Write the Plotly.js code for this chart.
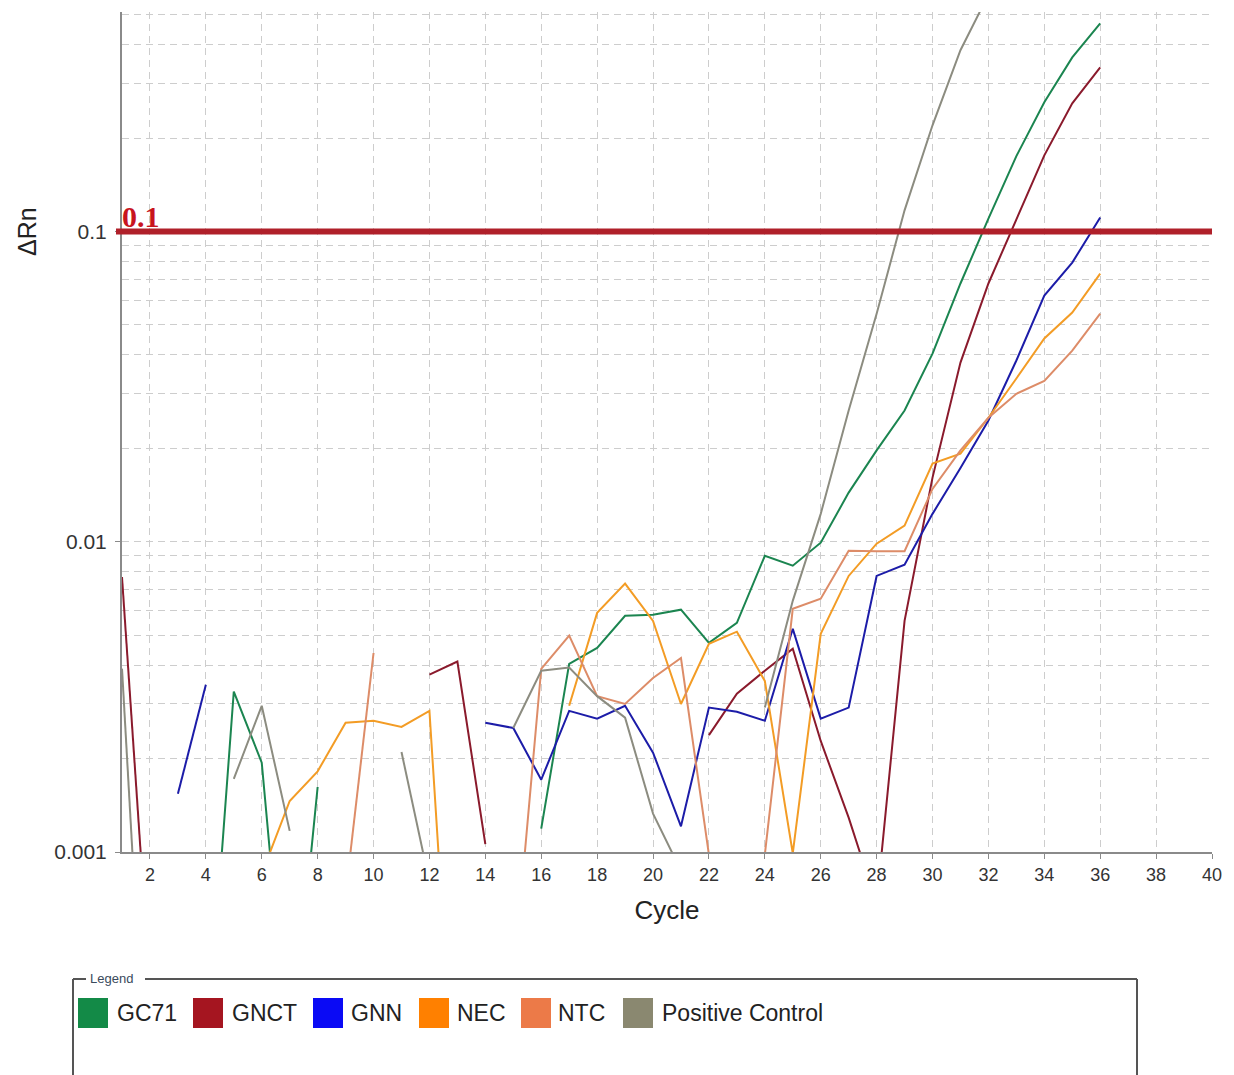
<!DOCTYPE html>
<html><head><meta charset="utf-8">
<script src="https://cdn.plot.ly/plotly-3.0.1.min.js"></script>
<style>html,body{margin:0;padding:0;background:#fff}#chart{width:1234px;height:1075px}</style>
</head><body><div id="chart"></div>
<script>
// ---- data (cycles 1..36; null = no positive value, line gap) ----
const cycles = [1,2,3,4,5,6,7,8,9,10,11,12,13,14,15,16,17,18,19,20,21,22,23,24,25,26,27,28,29,30,31,32,33,34,35,36];
const seriesNames = ["GC71","GNCT","GNN","NEC","NTC","Positive Control"];
const gc71 = [null,null,null,0.0002,0.00329,0.00194,0.0002,0.00162,null,null,null,null,null,null,null,0.00119,0.00404,0.00455,0.00577,0.00582,0.00604,0.00472,0.00548,0.00901,0.00837,0.00993,0.0144,0.0197,0.0265,0.0404,0.068,0.110,0.175,0.261,0.364,0.469];
const gnct = [0.0077,0.00036,null,null,null,null,null,null,null,null,null,0.00373,0.00411,0.00106,null,null,null,null,null,null,null,0.00238,0.00324,0.00384,0.00452,0.00228,0.00129,0.00068,0.00556,0.0161,0.0378,0.068,0.110,0.176,0.259,0.338];
const gnn = [null,null,0.00154,0.00346,null,null,null,null,null,null,null,null,null,0.00261,0.00251,0.00171,0.00285,0.00269,0.00296,0.00209,0.00121,0.00292,0.00283,0.00265,0.00524,0.00269,0.00292,0.00776,0.00843,0.0123,0.0173,0.0246,0.0384,0.0622,0.0794,0.111];
const nec = [null,null,null,null,null,0.00085,0.00146,0.00182,0.00261,0.00265,0.00253,0.00285,0.00011,null,null,null,0.00296,0.0059,0.00733,0.00556,0.0030,0.00469,0.00513,0.00356,0.00099,0.00505,0.00776,0.00986,0.01127,0.01786,0.01923,0.0251,0.0336,0.0452,0.0548,0.0732];
const ntc = [null,null,null,null,null,null,null,null,0.00073,0.00438,null,null,null,null,0.00038,0.00389,0.00498,0.00318,0.0030,0.00364,0.00422,0.00098,null,0.00098,0.00608,0.00655,0.00935,0.00932,0.00932,0.0148,0.0197,0.0251,0.0300,0.0330,0.0413,0.0544];
const positiveControl = [0.0039,0.0001,null,null,0.00172,0.00296,0.00117,null,null,null,0.0021,0.0008,null,null,0.00251,0.00384,0.00393,0.00318,0.00271,0.00133,0.00087,null,null,0.00292,0.00645,0.0123,0.0265,0.0543,0.117,0.220,0.384,0.58,0.68,0.74,0.78,0.81];
const threshold = 0.1;
const thresholdLabel = "0.1";
const xTickVals = [2,4,6,8,10,12,14,16,18,20,22,24,26,28,30,32,34,36,38,40];
const yTickVals = [0.001,0.01,0.1];
const yTickText = ["0.001","0.01","0.1"];
const yMinorVals = [0.002,0.003,0.004,0.005,0.006,0.007,0.008,0.009,0.02,0.03,0.04,0.05,0.06,0.07,0.08,0.09,0.2,0.3,0.4,0.5];

// ---- styles ----
const lineColors = ["#1b8550","#8a1a2c","#1c1ca8","#f39c25","#dd8c68","#8c8c80"];
const swatchColors = ["#138a47","#a51520","#0a0af5","#ff8000","#ec7a48","#8a8870"];
const allSeries = [gc71,gnct,gnn,nec,ntc,positiveControl];

const traces = allSeries.map((ys,i)=>({
  type:"scatter", mode:"lines", x:cycles, y:ys, name:seriesNames[i],
  line:{color:lineColors[i], width:2}, connectgaps:false, showlegend:false, hoverinfo:"x+y+name"
}));

// plot box in pixels
const L=122, R=1212, T=12, B=852;
const px = x => (x-L)/(R-L);
const py = y => (B-y)/(B-T);

const shapes = [
  {type:"line", xref:"paper", yref:"y", x0:px(116), x1:1, y0:threshold, y1:threshold, line:{color:"#b0202a", width:6}, layer:"above"},
  // legend frame
  {type:"line", xref:"paper", yref:"paper", x0:px(73), x1:px(73), y0:py(979), y1:py(1090), line:{color:"#555", width:2}},
  {type:"line", xref:"paper", yref:"paper", x0:px(73), x1:px(86), y0:py(979), y1:py(979), line:{color:"#555", width:2}},
  {type:"line", xref:"paper", yref:"paper", x0:px(145), x1:px(1137), y0:py(979), y1:py(979), line:{color:"#555", width:2}},
  {type:"line", xref:"paper", yref:"paper", x0:px(1137), x1:px(1137), y0:py(979), y1:py(1090), line:{color:"#555", width:2}}
];
const swatchX = [78,193,313,419,521,623];
const labelX = [115,230,349,455,556,660];
const annotations = [
  {xref:"x", yref:"y", x:1, y:Math.log10(threshold), text:"<b>"+thresholdLabel+"</b>", showarrow:false, xanchor:"left", yanchor:"bottom", yshift:-3, xshift:-2,
   font:{family:"Liberation Serif, Times New Roman, serif", size:30, color:"#c8141e"}},
  {xref:"paper", yref:"paper", x:px(27), y:py(232), text:"ΔRn", textangle:-90, showarrow:false, xanchor:"center", yanchor:"middle",
   font:{family:"Liberation Sans, Arial, sans-serif", size:25, color:"#222"}},
  {xref:"paper", yref:"paper", x:px(88), y:py(979), text:"Legend", showarrow:false, xanchor:"left", yanchor:"middle",
   font:{family:"Liberation Sans, Arial, sans-serif", size:13, color:"#3a4a5c"}}
];
seriesNames.forEach((n,i)=>{
  shapes.push({type:"rect", xref:"paper", yref:"paper", x0:px(swatchX[i]), x1:px(swatchX[i]+30), y0:py(998), y1:py(1028), fillcolor:swatchColors[i], line:{width:0}});
  annotations.push({xref:"paper", yref:"paper", x:px(labelX[i]), y:py(1013), text:n, showarrow:false, xanchor:"left", yanchor:"middle",
    font:{family:"Liberation Sans, Arial, sans-serif", size:23, color:"#222"}});
});

const layout = {
  width:1234, height:1075,
  margin:{l:L, r:1234-R, t:T, b:1075-B, pad:0},
  paper_bgcolor:"#fff", plot_bgcolor:"#fff",
  showlegend:false,
  xaxis:{range:[1,40], tickmode:"array", tickvals:xTickVals, showgrid:true, gridcolor:"#cdcdcd", griddash:"7px,5px", gridwidth:1,
    zeroline:false, showline:true, linecolor:"#8a8a8a", linewidth:2, ticks:"outside", ticklen:5, tickcolor:"#8a8a8a", tickwidth:1,
    tickfont:{family:"Liberation Sans, Arial, sans-serif", size:18, color:"#333"},
    title:{text:"Cycle", font:{family:"Liberation Sans, Arial, sans-serif", size:26, color:"#222"}, standoff:17}},
  yaxis:{type:"log", range:[-3, Math.log10(0.51)], tickmode:"array", tickvals:yTickVals, ticktext:yTickText,
    showgrid:true, gridcolor:"#cdcdcd", griddash:"7px,5px", gridwidth:1,
    minor:{tickmode:"array", tickvals:yMinorVals, showgrid:true, gridcolor:"#cdcdcd", griddash:"7px,5px", gridwidth:1, ticks:""},
    zeroline:false, showline:true, linecolor:"#8a8a8a", linewidth:2, ticks:"outside", ticklen:5, tickcolor:"#8a8a8a",
    ticklabelstandoff:4,
    tickfont:{family:"Liberation Sans, Arial, sans-serif", size:21, color:"#333"}},
  shapes:shapes, annotations:annotations
};
Plotly.newPlot("chart", traces, layout, {displayModeBar:false, staticPlot:true});
</script></body></html>
